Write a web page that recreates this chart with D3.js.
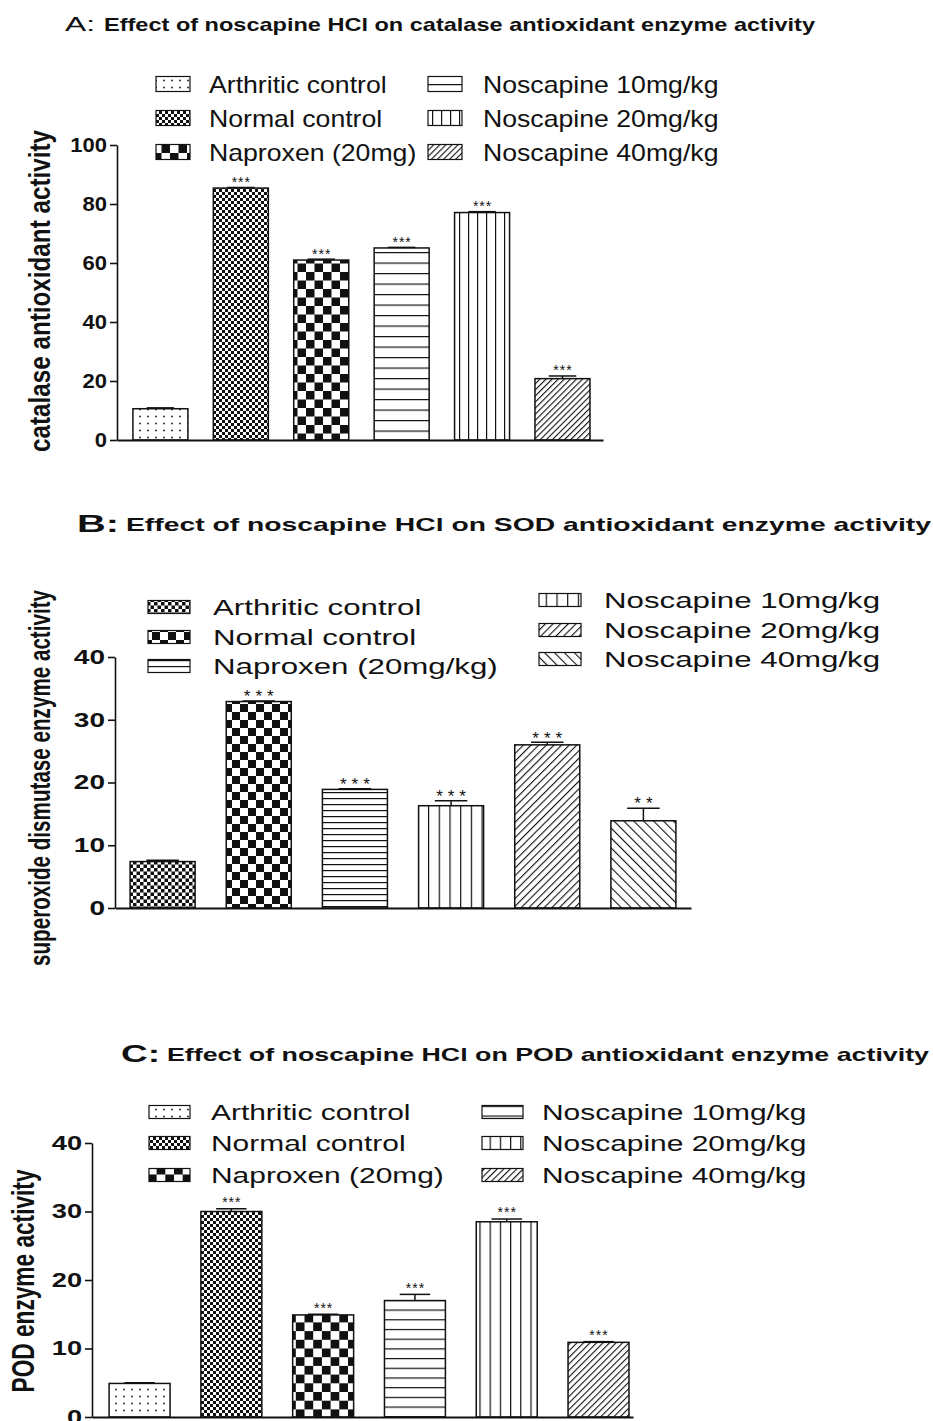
<!DOCTYPE html>
<html>
<head>
<meta charset="utf-8">
<script src="https://cdn.jsdelivr.net/npm/d3@7"></script>
<style>
  body { margin: 0; background: #fff; }
  text { font-family: 'Liberation Sans', Arial, sans-serif; fill: #111; }
</style>
</head>
<body>
<svg id="chart" width="933" height="1421"></svg>
<script>
// groups (legend order = bar order)
var groupsA = ['Arthritic control', 'Normal control', 'Naproxen (20mg)', 'Noscapine 10mg/kg', 'Noscapine 20mg/kg', 'Noscapine 40mg/kg'];
var groupsB = ['Arthritic control', 'Normal control', 'Naproxen (20mg/kg)', 'Noscapine 10mg/kg', 'Noscapine 20mg/kg', 'Noscapine 40mg/kg'];
var groupsC = ['Arthritic control', 'Normal control', 'Naproxen (20mg)', 'Noscapine 10mg/kg', 'Noscapine 20mg/kg', 'Noscapine 40mg/kg'];

// A: catalase
var catalaseMean = [10.6, 85.4, 61.0, 65.1, 77.1, 20.8];
var catalaseErr = [0.3, 0.2, 0.3, 0.2, 0.3, 0.9];
var catalaseSig = ['', '***', '***', '***', '***', '***'];
var catalaseTicks = [0, 20, 40, 60, 80, 100];

// B: SOD
var sodMean = [7.4, 32.9, 18.9, 16.3, 26.0, 13.9];
var sodErr = [0.2, 0.1, 0.1, 0.8, 0.4, 2.0];
var sodSig = ['', '***', '***', '***', '***', '**'];
var sodTicks = [0, 10, 20, 30, 40];

// C: POD
var podMean = [4.9, 30.0, 14.9, 17.0, 28.5, 10.9];
var podErr = [0.1, 0.4, 0.1, 0.9, 0.4, 0.1];
var podSig = ['', '***', '***', '***', '***', '***'];
var podTicks = [0, 10, 20, 30, 40];

var titles = [
  ['A:', 'Effect of noscapine HCl on catalase antioxidant enzyme activity'],
  ['B:', 'Effect of noscapine HCl on SOD antioxidant enzyme activity'],
  ['C:', 'Effect of noscapine HCl on POD antioxidant enzyme activity']
];
var yLabels = ['catalase antioxidant activity', 'superoxide dismutase enzyme activity', 'POD enzyme activity'];

var svg = d3.select('#chart');
var defs = svg.append('defs');

function makePattern(id, w, h, draw, transform) {
  var p = defs.append('pattern')
    .attr('id', id)
    .attr('patternUnits', 'userSpaceOnUse')
    .attr('width', w)
    .attr('height', h);
  if (transform) {
    p.attr('patternTransform', transform);
  }
  p.append('rect').attr('width', w).attr('height', h).attr('fill', '#fff');
  draw(p, w, h);
  return 'url(#' + id + ')';
}

var painters = {
  dots: function (id, s) {
    return makePattern(id, s, s - 1, function (p, w, h) {
      p.append('rect').attr('x', w / 2 - 0.8).attr('y', h / 2 - 0.8)
        .attr('width', 1.6).attr('height', 1.6).attr('fill', '#111');
    });
  },
  check: function (id, s) {
    return makePattern(id, 2 * s, 2 * s, function (p) {
      p.append('rect').attr('width', s).attr('height', s).attr('fill', '#111');
      p.append('rect').attr('x', s).attr('y', s).attr('width', s).attr('height', s).attr('fill', '#111');
    });
  },
  hline: function (id, s) {
    return makePattern(id, 8, s, function (p, w) {
      p.append('rect').attr('y', 0).attr('width', w).attr('height', 1.2).attr('fill', '#111');
    });
  },
  vline: function (id, s) {
    return makePattern(id, s, 8, function (p, w, h) {
      p.append('rect').attr('x', 0).attr('width', 1.2).attr('height', h).attr('fill', '#111');
    });
  },
  diag: function (id, s) {
    return makePattern(id, s, 8, function (p, w, h) {
      p.append('rect').attr('width', 1.1).attr('height', h).attr('fill', '#111');
    }, 'rotate(45)');
  },
  backdiag: function (id, s) {
    return makePattern(id, s, 8, function (p, w, h) {
      p.append('rect').attr('width', 1.1).attr('height', h).attr('fill', '#111');
    }, 'rotate(-45)');
  }
};

var panels = [
  {
    key: 'A', groups: groupsA, mean: catalaseMean, err: catalaseErr, sig: catalaseSig, ticks: catalaseTicks,
    x0: 117, x1: 603, yTop: 145, yZero: 440, padInner: 0.316, padOuter: 0.18, align: 0.55, sx: 1.1,
    fills: [['dots', 8], ['check', 3], ['check', 8.5], ['hline', 10.5], ['vline', 9], ['diag', 4.3]],
    title: { lx: 65, ly: 31, lsize: 21, lweight: 'normal', llen: 30, x: 104, y: 31, size: 19, len: 711 },
    ylab: { x: 50, y: 291, size: 24, len: 322, sx: 1.25 },
    tickSize: 20,
    legend: { colX: [156, 428], textX: [209, 483], rows: [[84, 118, 152], [84, 118, 152]], w: 34, h: 15, size: 24, sx: 1.11 },
    star: { size: 14, spacing: 1, lift: 9 }
  },
  {
    key: 'B', groups: groupsB, mean: sodMean, err: sodErr, sig: sodSig, ticks: sodTicks,
    x0: 115, x1: 691, yTop: 657, yZero: 908, padInner: 0.324, padOuter: 0.157, align: 0.5, sx: 1.4,
    fills: [['check', 3.5], ['check', 8], ['hline', 6], ['vline', 10.7], ['diag', 5.4], ['backdiag', 7]],
    title: { lx: 77, ly: 532, lsize: 23, lweight: 'bold', llen: 42, x: 126, y: 531, size: 19, len: 805 },
    ylab: { x: 50, y: 778, size: 20.6, len: 376, sx: 1.4 },
    tickSize: 20,
    legend: { colX: [148, 539], textX: [213, 604], rows: [[607, 637, 666], [600, 630, 659]], w: 42, h: 13, size: 22, sx: 1.42 },
    star: { size: 17, spacing: 5, lift: 9 }
  },
  {
    key: 'C', groups: groupsC, mean: podMean, err: podErr, sig: podSig, ticks: podTicks,
    x0: 92, x1: 633, yTop: 1143, yZero: 1417, padInner: 0.336, padOuter: 0.115, align: 0.81, sx: 1.36,
    fills: [['dots', 8], ['check', 3], ['check', 8.7], ['hline', 9.7], ['vline', 10.2], ['diag', 4.6]],
    title: { lx: 121, ly: 1062, lsize: 23, lweight: 'bold', llen: 39, x: 167, y: 1061, size: 19, len: 762 },
    ylab: { x: 34, y: 1281, size: 22.7, len: 223, sx: 1.36 },
    tickSize: 20,
    legend: { colX: [149, 482], textX: [211, 542], rows: [[1112, 1143, 1175], [1112, 1143, 1175]], w: 41, h: 13, size: 22, sx: 1.36 },
    star: { size: 14, spacing: 1, lift: 10 }
  }
];

function stretch(sel, sx) {
  sel.each(function () {
    var n = this.getComputedTextLength();
    d3.select(this).attr('textLength', n * sx).attr('lengthAdjust', 'spacingAndGlyphs');
  });
}

panels.forEach(function (cfg, pi) {
  var g = svg.append('g').attr('class', 'panel-' + cfg.key);

  var fills = cfg.fills.map(function (f, i) {
    return painters[f[0]](cfg.key + '-' + i, f[1]);
  });

  var x = d3.scaleBand()
    .domain(cfg.groups)
    .range([cfg.x0, cfg.x1])
    .paddingInner(cfg.padInner)
    .paddingOuter(cfg.padOuter)
    .align(cfg.align);

  var y = d3.scaleLinear()
    .domain([0, d3.max(cfg.ticks)])
    .range([cfg.yZero, cfg.yTop]);

  var rows = cfg.groups.map(function (name, i) {
    return { name: name, mean: cfg.mean[i], err: cfg.err[i], sig: cfg.sig[i], fill: fills[i] };
  });

  // title
  var t = cfg.title;
  g.append('text').attr('x', t.lx).attr('y', t.ly)
    .style('font-size', t.lsize + 'px').style('font-weight', t.lweight)
    .attr('textLength', t.llen).attr('lengthAdjust', 'spacingAndGlyphs')
    .text(titles[pi][0]);
  g.append('text').attr('x', t.x).attr('y', t.y)
    .style('font-size', t.size + 'px').style('font-weight', 'bold')
    .attr('textLength', t.len).attr('lengthAdjust', 'spacingAndGlyphs')
    .text(titles[pi][1]);

  // bars
  g.append('g').selectAll('rect')
    .data(rows)
    .enter().append('rect')
    .attr('x', function (d) { return x(d.name); })
    .attr('y', function (d) { return y(d.mean); })
    .attr('width', x.bandwidth())
    .attr('height', function (d) { return y(0) - y(d.mean); })
    .attr('fill', function (d) { return d.fill; })
    .attr('stroke', '#111')
    .attr('stroke-width', 1.5);

  // error bars (upper only)
  var eb = g.append('g').selectAll('g')
    .data(rows)
    .enter().append('g')
    .attr('stroke', '#111')
    .attr('stroke-width', 1.5);
  eb.append('line')
    .attr('x1', function (d) { return x(d.name) + x.bandwidth() / 2; })
    .attr('x2', function (d) { return x(d.name) + x.bandwidth() / 2; })
    .attr('y1', function (d) { return y(d.mean); })
    .attr('y2', function (d) { return y(d.mean + d.err); });
  eb.append('line')
    .attr('x1', function (d) { return x(d.name) + x.bandwidth() / 4; })
    .attr('x2', function (d) { return x(d.name) + x.bandwidth() * 3 / 4; })
    .attr('y1', function (d) { return y(d.mean + d.err); })
    .attr('y2', function (d) { return y(d.mean + d.err); });

  // significance stars, centred a few pixels above the cap
  g.append('g').selectAll('text')
    .data(rows.filter(function (d) { return d.sig; }))
    .enter().append('text')
    .attr('x', function (d) { return x(d.name) + x.bandwidth() / 2 + cfg.star.spacing / 2; })
    .attr('y', function (d) { return y(d.mean + d.err) - cfg.star.lift + cfg.star.size * 0.6; })
    .attr('text-anchor', 'middle')
    .style('font-size', cfg.star.size + 'px')
    .style('letter-spacing', cfg.star.spacing + 'px')
    .text(function (d) { return d.sig; });

  // axes
  var yAxis = g.append('g')
    .attr('transform', 'translate(' + cfg.x0 + ',0)')
    .call(d3.axisLeft(y).tickValues(cfg.ticks).tickSize(7).tickSizeOuter(0).tickPadding(3));
  yAxis.selectAll('path, line').attr('stroke', '#111').attr('stroke-width', 1.6);
  yAxis.selectAll('text')
    .style('font-size', cfg.tickSize + 'px')
    .style('font-weight', 'bold')
    .attr('fill', '#111')
    .call(stretch, cfg.sx);

  var xAxis = g.append('g')
    .attr('transform', 'translate(0,' + cfg.yZero + ')')
    .call(d3.axisBottom(x).tickSize(0).tickSizeOuter(0).tickFormat(''));
  xAxis.selectAll('path').attr('stroke', '#111').attr('stroke-width', 2);
  xAxis.selectAll('.tick').remove();

  // y label (rotated, widened across like the panel)
  var yl = cfg.ylab;
  g.append('text')
    .attr('transform', 'translate(' + yl.x + ',' + yl.y + ') scale(' + yl.sx + ',1) rotate(-90)')
    .attr('text-anchor', 'middle')
    .style('font-size', yl.size + 'px')
    .style('font-weight', 'bold')
    .attr('textLength', yl.len)
    .attr('lengthAdjust', 'spacingAndGlyphs')
    .text(yLabels[pi]);

  // legend: two columns of three
  var lg = cfg.legend;
  var items = g.append('g').selectAll('g')
    .data(rows)
    .enter().append('g');
  items.append('rect')
    .attr('x', function (d, i) { return lg.colX[Math.floor(i / 3)]; })
    .attr('y', function (d, i) { return lg.rows[Math.floor(i / 3)][i % 3] - lg.h / 2; })
    .attr('width', lg.w)
    .attr('height', lg.h)
    .attr('fill', function (d) { return d.fill; })
    .attr('stroke', '#111')
    .attr('stroke-width', 1.2);
  items.append('text')
    .attr('x', function (d, i) { return lg.textX[Math.floor(i / 3)]; })
    .attr('y', function (d, i) { return lg.rows[Math.floor(i / 3)][i % 3] + lg.size * 0.36; })
    .style('font-size', lg.size + 'px')
    .text(function (d) { return d.name; })
    .call(stretch, lg.sx);
});
</script>
</body>
</html>
